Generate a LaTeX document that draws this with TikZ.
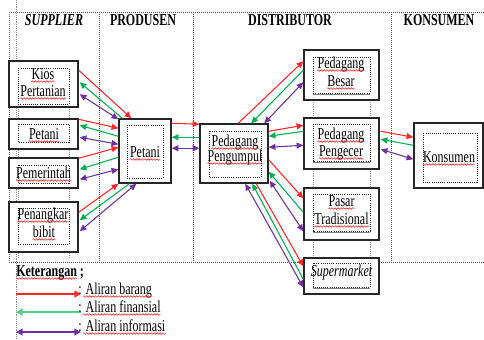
\documentclass[tikz,border=0pt]{standalone}
\usepackage{fontspec}
\setmainfont{Liberation Serif}[FakeStretch=0.72]
\usetikzlibrary{arrows.meta,calc,fit,decorations.pathmorphing}
\definecolor{cred}{RGB}{255,40,40}
\definecolor{cgreen}{RGB}{0,176,80}
\definecolor{cpurple}{RGB}{112,48,160}
\definecolor{clgreen}{RGB}{90,205,135}
\tikzset{
  box/.style={draw=black!85, line width=1.1pt, fill=white, inner sep=0pt, fit={#1}},
  innerbox/.style={densely dotted, line width=0.6pt, draw=black!85},
  frame/.style={densely dotted, line width=0.5pt, draw=black!70},
  guide/.style={densely dotted, line width=0.4pt, draw=black!45},
  txt/.style={anchor=base, inner sep=0pt, font=\fontsize{12.5}{13.5}\selectfont},
  hd/.style={anchor=base, inner sep=0pt, font=\fontsize{12.5}{13.5}\selectfont\bfseries},
  squig/.style={draw=red, line width=0.35pt, decorate, decoration={snake, amplitude=0.6pt, segment length=2.2pt}},
  fr/.style={draw=cred, line width=0.8pt, -{Triangle[length=5pt,width=4.5pt]}},
  fg/.style={draw=cgreen, line width=0.8pt, -{Triangle[length=5pt,width=4.5pt]}},
  fp/.style={draw=cpurple, line width=0.8pt, {Triangle[length=5pt,width=4.5pt]}-{Triangle[length=5pt,width=4.5pt]}},
}
\newcommand{\wl}[4]{\node[txt] (#1) at (#2,#3) {#4};\draw[squig] ($(#1.base west)+(0,2.5)$) -- ($(#1.base east)+(0,2.5)$);}
\begin{document}
\begin{tikzpicture}[x=0.75pt,y=-0.75pt]
\path[use as bounding box, fill=white] (0,0) rectangle (484,339);
% frame and separators
\draw[frame] (9,12) -- (484,12);
\draw[frame] (9,262) -- (484,262);
\draw[frame, draw=blue!30!gray] (9,12) -- (9,262);
\draw[frame] (99,12) -- (99,262);
\draw[frame] (193,12) -- (193,262);
\draw[frame] (391,12) -- (391,262);
% guides
\draw[guide] (16,0) -- (16,339);
\draw[guide] (18,68) -- (18,258);
\draw[guide] (69,68) -- (69,258);
\draw[guide] (313,57) -- (313,294);
\draw[guide] (370,57) -- (370,294);
% headers
\node[hd, font=\fontsize{12.5}{13.5}\selectfont\bfseries\itshape] (hsup) at (54,25) {SUPPLIER};
\node[hd] (hpro) at (143,25) {PRODUSEN};
\node[hd] (hdis) at (290,25) {DISTRIBUTOR};
\node[hd] (hkon) at (439,25) {KONSUMEN};
% boxes
\node[box={(9,61) (78,107)}] (kios) {};
\node[box={(9,119) (78,149)}] (petS) {};
\node[box={(9,158) (78,188)}] (pem) {};
\node[box={(9,202) (78,252)}] (pen) {};
\node[box={(119,119) (171,183)}] (petP) {};
\node[box={(200,124) (268,183)}] (pgm) {};
\node[box={(304,50) (379,100)}] (besar) {};
\node[box={(304,118) (379,169)}] (pgc) {};
\node[box={(304,188) (379,240)}] (pasar) {};
\node[box={(304,258) (379,294)}] (sup) {};
\node[box={(414,123) (483,188)}] (kons) {};
% inner dotted text frames
\draw[innerbox] (18,68) rectangle (69,104);
\draw[innerbox] (18,124) rectangle (69,142);
\draw[innerbox] (18,165) rectangle (69,183);
\draw[innerbox] (18,208) rectangle (69,244);
\draw[innerbox] (127,125) rectangle (163,178);
\draw[innerbox] (209,131) rectangle (261,177);
\draw[innerbox] (313,57) rectangle (370,93);
\draw[innerbox] (313,124) rectangle (370,161);
\draw[innerbox] (313,194) rectangle (370,231);
\draw[innerbox] (313,263) rectangle (370,287);
\draw[innerbox] (423,133) rectangle (477,182);
\foreach \yy in {93,161,231,287} \draw[black!50, line width=0.9pt] (313,\yy+1.5) -- (370,\yy+1.5);
% texts
\wl{tkios1}{43}{79}{Kios}
\wl{tkios2}{43}{96}{Pertanian}
\wl{tpets}{44}{139}{Petani}
\wl{tpem}{43.5}{178}{Pemerintah}
\wl{tpen1}{43}{219}{Penangkar}
\wl{tpen2}{44}{237}{bibit}
\wl{tpetp}{145}{157}{Petani}
\wl{tpgm1}{235}{146}{Pedagang}
\wl{tpgm2}{235}{161}{Pengumpul}
\wl{tbes1}{341}{68}{Pedagang}
\wl{tbes2}{341}{86}{Besar}
\wl{tpgc1}{341}{139}{Pedagang}
\wl{tpgc2}{341}{156}{Pengecer}
\wl{tpas1}{341.5}{206}{Pasar}
\wl{tpas2}{341.5}{224}{Tradisional}
\node[txt, font=\fontsize{12.5}{13.5}\selectfont\itshape] (tsup) at (341.5,276) {Supermarket};
\wl{tkons}{449}{162}{Konsumen}
% supplier <-> petani
\draw[fr] ($(kios.north east)+(0,10)$) -- ($(petP.north west)+(13,0)$);
\draw[fg] ($(petP.north west)+(4,0)$) -- ($(kios.north east)+(1,22)$);
\draw[fp] ($(kios.north east)+(1,34)$) -- ($(petP.north west)+(0,1)$);
\draw[fr] ($(petS.north east)+(0,1)$) -- ($(petP.north west)+(0,10)$);
\draw[fg] ($(petP.north west)+(0,18)$) -- ($(petS.north east)+(1,7)$);
\draw[fp] ($(petS.north east)+(1,19)$) -- ($(petP.north west)+(0,26)$);
\draw[fr] ($(pem.north east)+(0,1)$) -- ($(petP.north west)+(0,29)$);
\draw[fg] ($(petP.north west)+(0,39)$) -- ($(pem.north east)+(1,12)$);
\draw[fp] ($(pem.north east)+(1,22)$) -- ($(petP.north west)+(0,51)$);
\draw[fr] ($(pen.north east)+(0,11)$) -- (petP.south west);
\draw[fg] ($(petP.south west)+(11,0)$) -- ($(pen.north east)+(1,19)$);
\draw[fp] ($(pen.north east)+(1,30)$) -- ($(petP.south west)+(18,0)$);
% petani <-> pengumpul
\draw[fr] ($(petP.north east)+(0,5)$) -- ($(pgm.north west)+(0,1)$);
\draw[fg] ($(pgm.north west)+(0,14)$) -- ($(petP.north east)+(0,19)$);
\draw[fp] ($(petP.north east)+(0,30)$) -- ($(pgm.north west)+(0,25)$);
% pengumpul <-> distributors
\draw[fr] ($(pgm.north west)+(39,0)$) -- ($(besar.north west)+(0,12)$);
\draw[fg] ($(besar.north west)+(0,21)$) -- ($(pgm.north west)+(52,0)$);
\draw[fp] ($(pgm.north west)+(65,0)$) -- ($(besar.north west)+(0,33)$);
\draw[fr] ($(pgm.north east)+(0,8)$) -- ($(pgc.north west)+(0,8)$);
\draw[fg] ($(pgc.north west)+(0,14)$) -- ($(pgm.north east)+(0,13)$);
\draw[fp] ($(pgm.north east)+(0,24)$) -- ($(pgc.north west)+(0,28)$);
\draw[fr] ($(pgm.south east)+(0,-24)$) -- ($(pasar.north west)+(0,11)$);
\draw[fg] ($(pasar.north west)+(0,25)$) -- ($(pgm.south east)+(0,-12)$);
\draw[fp] ($(pgm.south east)+(1,-3)$) -- ($(pasar.north west)+(0,44)$);
\draw[fr] ($(pgm.south west)+(57,0)$) -- ($(sup.north west)+(0,9)$);
\draw[fg] ($(sup.north west)+(0,22)$) -- ($(pgm.south west)+(53,0)$);
\draw[fp] ($(sup.north west)+(0,30)$) -- ($(pgm.south west)+(46,0)$);
% pengecer <-> konsumen
\draw[fr] ($(pgc.north east)+(1,14)$) -- ($(kons.north west)+(0,15)$);
\draw[fg] ($(kons.north west)+(0,23)$) -- ($(pgc.north east)+(1,22)$);
\draw[fp] ($(pgc.north east)+(1,32)$) -- ($(kons.north west)+(0,37)$);
% legend
\node[txt, anchor=base west, font=\fontsize{12.5}{13.5}\selectfont\bfseries] (ket) at (16,276) {Keterangan ;};
\draw[squig] ($(ket.base west)+(0,2.5)$) -- ($(ket.base east)+(-7,2.5)$);
\coordinate (l1a) at (16,294); \coordinate (l1b) at (81,294);
\coordinate (l2a) at (16,312); \coordinate (l2b) at (81,312);
\coordinate (l3a) at (16,332); \coordinate (l3b) at (81,332);
\draw[draw=cred, line width=1.4pt, -{Triangle[length=5pt,width=5pt]}] (l1a) -- (l1b);
\draw[draw=clgreen, line width=2pt, -{Triangle[length=5pt,width=5.5pt]}] (l2b) -- (l2a);
\draw[draw=cpurple, line width=1.4pt, {Triangle[length=5pt,width=5pt]}-{Triangle[length=5pt,width=5pt]}] (l3a) -- (l3b);
\node[txt, anchor=base west] (lt1) at (78,294) {: Aliran barang};
\node[txt, anchor=base west] (lt2) at (78,312) {: Aliran finansial};
\node[txt, anchor=base west] (lt3) at (78,331) {: Aliran informasi};
\foreach \n in {lt1,lt2,lt3} \draw[squig] ($(\n.base west)+(5,2.5)$) -- ($(\n.base east)+(0,2.5)$);
\end{tikzpicture}
\end{document}
